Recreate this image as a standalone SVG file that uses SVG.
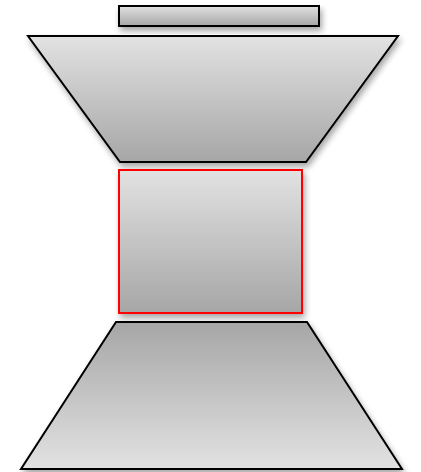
<svg xmlns="http://www.w3.org/2000/svg" width="421" height="472" viewBox="0 0 421 472">
<defs>
<linearGradient id="gDown" x1="0" y1="0" x2="0" y2="1">
<stop offset="0" stop-color="#e2e2e2"/>
<stop offset="1" stop-color="#a6a6a6"/>
</linearGradient>
<linearGradient id="gUp" x1="0" y1="0" x2="0" y2="1">
<stop offset="0" stop-color="#a6a6a6"/>
<stop offset="1" stop-color="#e2e2e2"/>
</linearGradient>
<filter id="sh" x="-20%" y="-20%" width="140%" height="160%">
<feGaussianBlur in="SourceAlpha" stdDeviation="3"/>
<feOffset dx="2" dy="4" result="b"/>
<feComponentTransfer><feFuncA type="linear" slope="0.35"/></feComponentTransfer>
<feMerge><feMergeNode/><feMergeNode in="SourceGraphic"/></feMerge>
</filter>
</defs>
<style>
.s{stroke:#000;stroke-width:2;stroke-linejoin:miter;filter:url(#sh)}
.r{stroke:#ff0000;stroke-width:2;filter:url(#sh)}
</style>
<rect width="421" height="472" fill="#fff"/>
<g id="top-bar"><rect class="s" x="119" y="6" width="200" height="20" fill="url(#gDown)"/></g>
<g id="top-funnel"><polygon class="s" points="28,36 398,36 306,162 120,162" fill="url(#gDown)"/></g>
<g id="middle-box"><rect class="r" x="119" y="170" width="183" height="143" fill="url(#gDown)"/></g>
<g id="bottom-base"><polygon class="s" points="116,322 307,322 402,469 21,469" fill="url(#gUp)"/></g>
<g id="connectors"/>
</svg>
